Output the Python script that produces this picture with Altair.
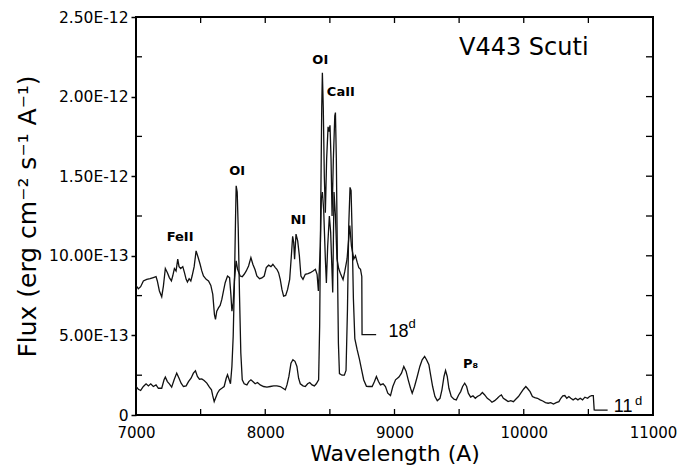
import altair as alt
import pandas as pd

# ---- spectrum at day 18 (upper curve), flux in units of 1e-13 erg cm-2 s-1 A-1
wl_18d = [7000, 7018, 7036, 7057, 7083, 7109, 7134, 7155, 7165, 7181, 7199, 7212, 7227, 7243, 7258,
          7274, 7284, 7297, 7310, 7323, 7333, 7346, 7362, 7375, 7388, 7398, 7411, 7424, 7434, 7450,
          7465, 7481, 7496, 7509, 7522, 7543, 7561, 7579, 7594, 7607, 7615, 7625, 7638, 7651, 7664,
          7677, 7690, 7708, 7724, 7734, 7742, 7752, 7762, 7775, 7786, 7796, 7806, 7822, 7837, 7853,
          7871, 7889, 7904, 7922, 7935, 7956, 7974, 7992, 8008, 8026, 8044, 8059, 8078, 8090, 8103,
          8116, 8129, 8142, 8158, 8173, 8189, 8202, 8212, 8220, 8227, 8238, 8251, 8264, 8276, 8292,
          8310, 8331, 8349, 8370, 8388, 8401, 8411, 8426, 8434, 8442, 8452, 8465, 8473, 8483, 8496,
          8506, 8522, 8532, 8543, 8555, 8568, 8581, 8602, 8615, 8633, 8654, 8667, 8685, 8698, 8711,
          8724, 8737, 8747, 8749, 8858]
flux_18d = [8.14, 7.93, 8.06, 8.42, 8.52, 8.56, 8.63, 8.69, 8.42, 7.79, 7.43, 8.10, 9.20, 8.94, 8.63,
            8.42, 8.73, 9.20, 9.05, 9.79, 9.32, 9.20, 9.32, 8.94, 8.52, 8.35, 8.56, 8.42, 8.73, 9.32,
            10.31, 9.89, 9.47, 9.05, 8.73, 8.52, 8.42, 8.14, 7.58, 6.31, 6.00, 6.52, 6.73, 6.88, 7.26,
            7.79, 8.31, 8.73, 8.63, 7.58, 6.52, 7.05, 8.52, 9.68, 9.15, 8.94, 8.73, 8.69, 8.84, 9.05,
            9.36, 9.89, 9.47, 9.11, 8.73, 8.56, 8.61, 8.73, 9.26, 9.41, 9.32, 9.47, 9.26, 9.15, 8.94,
            8.52, 7.89, 7.47, 7.51, 7.89, 8.52, 10.0, 11.22, 10.84, 9.79, 11.36, 10.94, 10.0, 8.73, 8.52,
            8.84, 8.88, 8.94, 9.05, 9.15, 8.84, 7.79, 10.6, 13.6, 14.0, 12.9, 9.8, 8.3, 10.6, 12.5,
            11.5, 7.7, 14.0, 12.5, 9.8, 9.2, 8.9, 8.5, 9.0, 9.8, 11.9, 10.6, 9.8, 10.0, 9.6,
            9.26, 9.15, 8.7, 5.05, 5.05]

# ---- spectrum at day 11 (lower curve)
wl_11d = [7000, 7018, 7036, 7057, 7078, 7096, 7114, 7134, 7155, 7173, 7199, 7217, 7227, 7243, 7258,
          7276, 7295, 7315, 7333, 7349, 7367, 7388, 7406, 7426, 7444, 7460, 7475, 7491, 7509, 7527,
          7548, 7568, 7584, 7594, 7605, 7615, 7630, 7646, 7664, 7682, 7698, 7708, 7721, 7731, 7742,
          7752, 7762, 7770, 7775, 7783, 7791, 7801, 7811, 7822, 7837, 7858, 7873, 7889, 7904, 7922,
          7940, 7961, 7987, 8013, 8039, 8065, 8090, 8116, 8137, 8155, 8168, 8183, 8199, 8214, 8230,
          8245, 8258, 8271, 8292, 8310, 8328, 8344, 8362, 8380, 8395, 8413, 8421, 8429, 8437, 8442,
          8449, 8457, 8465, 8475, 8486, 8493, 8501, 8509, 8517, 8527, 8538, 8543, 8550, 8558, 8566,
          8574, 8594, 8612, 8625, 8636, 8646, 8656, 8664, 8672, 8682, 8693, 8711, 8729, 8744, 8762,
          8783, 8801, 8827, 8845, 8860, 8876, 8891, 8912, 8930, 8948, 8969, 8987, 9008, 9034, 9054,
          9072, 9090, 9106, 9124, 9137, 9155, 9176, 9196, 9214, 9233, 9248, 9266, 9279, 9295, 9313,
          9331, 9352, 9367, 9383, 9395, 9408, 9421, 9439, 9460, 9478, 9496, 9512, 9527, 9543, 9558,
          9571, 9589, 9607, 9625, 9641, 9662, 9680, 9698, 9718, 9736, 9754, 9775, 9796, 9814, 9827,
          9842, 9861, 9879, 9899, 9920, 9938, 9959, 9977, 9998, 10016, 10028, 10049, 10067, 10085, 10106,
          10127, 10147, 10168, 10189, 10209, 10230, 10251, 10272, 10287, 10302, 10318, 10333, 10349, 10364, 10382,
          10401, 10419, 10437, 10455, 10473, 10494, 10509, 10525, 10538, 10545, 10553, 10649]
flux_11d = [1.79, 1.62, 1.54, 1.79, 1.96, 1.83, 1.96, 1.79, 1.89, 1.68, 1.68, 2.21, 2.38, 2.10, 1.96,
            1.75, 2.21, 2.63, 2.31, 2.00, 1.79, 1.83, 2.10, 2.31, 2.63, 2.78, 2.42, 2.25, 2.27, 2.17,
            2.00, 1.75, 1.58, 1.20, 0.84, 1.05, 1.37, 1.58, 1.68, 1.79, 2.31, 2.53, 2.21, 1.96, 3.05,
            4.95, 8.52, 12.3, 14.4, 14.0, 11.7, 7.47, 3.89, 2.21, 1.96, 1.89, 2.10, 2.21, 2.10, 1.96,
            2.04, 1.89, 1.79, 1.75, 1.79, 1.83, 1.83, 1.79, 1.68, 1.58, 1.89, 2.42, 3.26, 3.47, 3.37,
            3.05, 2.31, 1.96, 1.83, 1.79, 1.96, 2.04, 1.89, 1.83, 1.96, 2.21, 5.6, 12.9, 19.3, 21.5,
            19.3, 15.0, 12.7, 16.1, 18.1, 17.8, 18.2, 16.1, 12.5, 16.1, 18.8, 19.0, 16.1, 9.8, 4.5,
            2.6, 2.5, 2.5, 2.8, 6.6, 11.9, 14.3, 14.1, 11.5, 7.3, 4.8, 4.1, 3.5, 2.9, 2.2,
            1.8, 1.79, 1.79, 2.10, 2.42, 2.10, 1.89, 1.96, 1.79, 1.37, 1.22, 1.79, 2.21, 2.38, 2.63,
            3.05, 2.74, 2.21, 1.68, 1.37, 1.79, 2.42, 3.05, 3.47, 3.68, 3.47, 3.16, 2.53, 1.79, 1.16,
            0.90, 1.05, 1.58, 2.42, 2.80, 2.42, 1.68, 1.16, 0.99, 0.95, 1.26, 1.47, 1.79, 2.00, 1.79,
            1.37, 1.12, 1.20, 1.05, 1.16, 1.26, 1.41, 1.26, 1.05, 0.95, 0.80, 0.90, 1.05, 1.20, 1.26,
            1.05, 0.95, 0.84, 0.90, 0.84, 0.99, 1.16, 1.37, 1.62, 1.79, 1.68, 1.47, 1.16, 1.09, 1.05,
            0.95, 0.88, 0.78, 0.74, 0.78, 0.69, 0.78, 0.84, 1.05, 1.20, 1.22, 1.05, 1.16, 1.05, 0.95,
            1.05, 0.95, 1.05, 0.95, 1.12, 1.05, 1.16, 1.22, 1.22, 0.32, 0.30, 0.30]

# ---- axes
x_label_values = [7000, 8000, 9000, 10000, 11000]
x_tick_values = [7000, 7500, 8000, 8500, 9000, 9500, 10000, 10500, 11000]
y_label_values = [0, 5, 10, 15, 20, 25]
y_label_texts = ["0", "5.00E-13", "10.00E-13", "1.50E-12", "2.00E-12", "2.50E-12"]
y_tick_values = [0, 2.5, 5, 7.5, 10, 12.5, 15, 17.5, 20, 22.5, 25]
y_minor_values = [2.5, 7.5, 12.5, 17.5, 22.5]

# ---- annotations
line_label_text = ["OI", "CaII", "OI", "NI", "FeII", "P\u2088"]
line_label_wl = [8426, 8585, 7783, 8256, 7341, 9589]
line_label_flux = [22.3, 20.3, 15.3, 12.25, 11.2, 3.2]

epoch_text = ["18", "11"]
epoch_wl = [8953, 10697]
epoch_flux = [4.92, 0.19]
sup_text = ["d", "d"]
sup_wl = [9108, 10860]
sup_flux = [5.45, 0.62]

W, H = 517, 398
FONT = "DejaVu Sans"
YTITLE = "Flux (erg cm\u207b\u00b2 s\u207b\u00b9 A\u207b\u00b9)"

xscale = alt.Scale(domain=[7000, 11000], nice=False, zero=False)
yscale = alt.Scale(domain=[0, 25], nice=False, zero=True)

label_expr = " : ".join(
    f"datum.value == {v} ? '{t}'" for v, t in zip(y_label_values, y_label_texts)
) + " : ''"

x_axis = alt.Axis(values=x_label_values, format="d", tickSize=0, labelPadding=10,
                  labelFlush=False, labelOverlap=False,
                  labelFontSize=15, labelFont=FONT, labelColor="black",
                  title="Wavelength (A)", titleFontSize=22, titleFont=FONT,
                  titleFontWeight="normal", titleColor="black",
                  titleBaseline="alphabetic", titleY=45)
y_axis = alt.Axis(values=y_label_values, labelExpr=label_expr, tickSize=5, tickColor="black",
                  tickWidth=1.5, labelPadding=3, labelFontSize=15.5, labelFont=FONT,
                  labelFlush=False, labelOverlap=False,
                  labelColor="black",
                  title=YTITLE, titleFontSize=25,
                  titleFont=FONT, titleFontWeight="normal", titleColor="black",
                  titleX=-109, titleY=199, titleBaseline="middle", titleAlign="center")

X = alt.X("wl:Q", scale=xscale, axis=x_axis, title="Wavelength (A)")
Y = alt.Y("flux:Q", scale=yscale, axis=y_axis, title=YTITLE)

spec = pd.concat([
    pd.DataFrame({"wl": wl_18d, "flux": flux_18d, "epoch": "18d"}),
    pd.DataFrame({"wl": wl_11d, "flux": flux_11d, "epoch": "11d"}),
])

lines = alt.Chart(spec).mark_line(color="#111111", strokeWidth=1.3, interpolate="linear").encode(
    x=X, y=Y, detail="epoch:N", order="wl:Q",
)

xt = pd.DataFrame({"wl": x_tick_values})
yt = pd.DataFrame({"flux": y_tick_values})
ym = pd.DataFrame({"flux": y_minor_values})

bottom_ticks = alt.Chart(xt).mark_rule(color="black", strokeWidth=1.3).encode(
    x=X, y=alt.value(H), y2=alt.value(H - 6))
top_ticks = alt.Chart(xt).mark_rule(color="black", strokeWidth=1.3).encode(
    x=X, y=alt.value(0), y2=alt.value(6))
right_ticks = alt.Chart(yt).mark_rule(color="black", strokeWidth=1.3).encode(
    y=Y, x=alt.value(W), x2=alt.value(W - 7))
left_ticks = alt.Chart(ym).mark_rule(color="black", strokeWidth=1.3).encode(
    y=Y, x=alt.value(0), x2=alt.value(6))

labels_df = pd.DataFrame({"wl": line_label_wl, "flux": line_label_flux, "t": line_label_text})
line_labels = alt.Chart(labels_df).mark_text(
    font=FONT, fontSize=13, fontWeight="bold", color="black", align="center", baseline="middle"
).encode(x=X, y=Y, text="t:N")

title_df = pd.DataFrame({"wl": [10000], "flux": [23.04], "t": ["V443 Scuti"]})
title_text = alt.Chart(title_df).mark_text(
    font=FONT, fontSize=24, color="black", align="center", baseline="middle"
).encode(x=X, y=Y, text="t:N")

ep_df = pd.DataFrame({"wl": epoch_wl, "flux": epoch_flux, "t": epoch_text})
ep_text = alt.Chart(ep_df).mark_text(
    font="Liberation Sans", fontSize=18, color="black", align="left", baseline="alphabetic"
).encode(x=X, y=Y, text="t:N")

sup_df = pd.DataFrame({"wl": sup_wl, "flux": sup_flux, "t": sup_text})
sup_marks = alt.Chart(sup_df).mark_text(
    font="Liberation Sans", fontSize=13, color="black", align="left", baseline="alphabetic"
).encode(x=X, y=Y, text="t:N")

chart = alt.layer(
    lines, bottom_ticks, top_ticks, right_ticks, left_ticks,
    line_labels, title_text, ep_text, sup_marks
).properties(
    width=W, height=H,
    autosize=alt.AutoSizeParams(type="none"),
    padding={"left": 136, "top": 17, "right": 25, "bottom": 51},
    background="white",
).configure_view(
    stroke="black", strokeWidth=2
).configure_axis(
    domain=False, grid=False
)

chart.save("out.html", embed_options={"renderer": "svg", "actions": False})
